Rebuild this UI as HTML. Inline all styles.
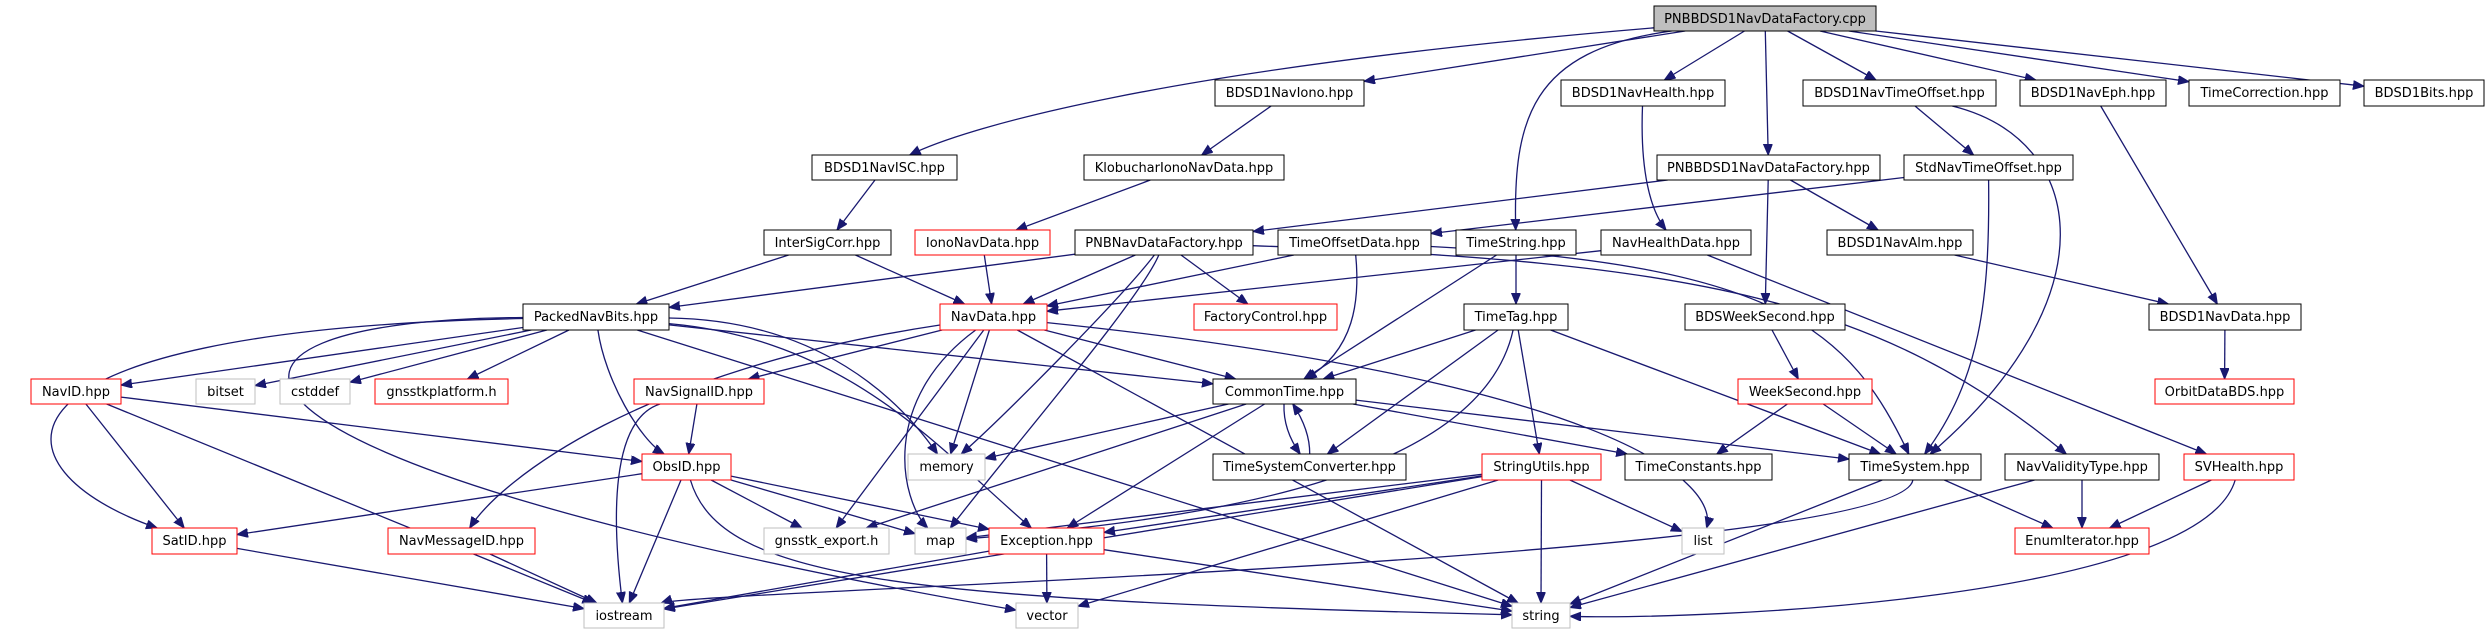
<!DOCTYPE html>
<html><head><meta charset="utf-8"><style>
html,body{margin:0;padding:0;background:#fff;width:2491px;height:635px;overflow:hidden}
svg text{font-family:"DejaVu Sans","Liberation Sans",sans-serif;font-size:13px;fill:#000}
</style></head><body>
<svg id="g" width="2491" height="635" viewBox="0 0 2491 635" xmlns="http://www.w3.org/2000/svg">
<defs><marker id="a" markerUnits="userSpaceOnUse" markerWidth="12" markerHeight="10" refX="11" refY="4.5" orient="auto"><path d="M0,0 L11,4.5 L0,9 z" fill="#191970" stroke="#191970"/></marker></defs>
<g id="edges" fill="none" stroke="#191970" stroke-width="1.3"></g>
<g id="nodes">
<rect x="1654" y="6" width="222" height="25" fill="#bfbfbf" stroke="#000"/><text x="1765" y="23" text-anchor="middle">PNBBDSD1NavDataFactory.cpp</text>
<rect x="1215" y="80" width="149" height="26" fill="#fff" stroke="#000"/><text x="1289.5" y="97" text-anchor="middle">BDSD1NavIono.hpp</text>
<rect x="1561" y="80" width="164" height="26" fill="#fff" stroke="#000"/><text x="1643" y="97" text-anchor="middle">BDSD1NavHealth.hpp</text>
<rect x="1803" y="80" width="193" height="26" fill="#fff" stroke="#000"/><text x="1899.5" y="97" text-anchor="middle">BDSD1NavTimeOffset.hpp</text>
<rect x="2020" y="80" width="146" height="26" fill="#fff" stroke="#000"/><text x="2093" y="97" text-anchor="middle">BDSD1NavEph.hpp</text>
<rect x="2189" y="80" width="151" height="26" fill="#fff" stroke="#000"/><text x="2264.5" y="97" text-anchor="middle">TimeCorrection.hpp</text>
<rect x="2364" y="80" width="120" height="26" fill="#fff" stroke="#000"/><text x="2424" y="97" text-anchor="middle">BDSD1Bits.hpp</text>
<rect x="812" y="155" width="145" height="25" fill="#fff" stroke="#000"/><text x="884.5" y="172" text-anchor="middle">BDSD1NavISC.hpp</text>
<rect x="1084" y="155" width="200" height="25" fill="#fff" stroke="#000"/><text x="1184" y="172" text-anchor="middle">KlobucharIonoNavData.hpp</text>
<rect x="1657" y="155" width="223" height="25" fill="#fff" stroke="#000"/><text x="1768.5" y="172" text-anchor="middle">PNBBDSD1NavDataFactory.hpp</text>
<rect x="1904" y="155" width="169" height="25" fill="#fff" stroke="#000"/><text x="1988.5" y="172" text-anchor="middle">StdNavTimeOffset.hpp</text>
<rect x="764" y="230" width="127" height="25" fill="#fff" stroke="#000"/><text x="827.5" y="247" text-anchor="middle">InterSigCorr.hpp</text>
<rect x="915" y="230" width="135" height="25" fill="#fff" stroke="#f00"/><text x="982.5" y="247" text-anchor="middle">IonoNavData.hpp</text>
<rect x="1075" y="230" width="178" height="25" fill="#fff" stroke="#000"/><text x="1164" y="247" text-anchor="middle">PNBNavDataFactory.hpp</text>
<rect x="1278" y="230" width="153" height="25" fill="#fff" stroke="#000"/><text x="1354.5" y="247" text-anchor="middle">TimeOffsetData.hpp</text>
<rect x="1456" y="230" width="120" height="25" fill="#fff" stroke="#000"/><text x="1516" y="247" text-anchor="middle">TimeString.hpp</text>
<rect x="1601" y="230" width="150" height="25" fill="#fff" stroke="#000"/><text x="1676" y="247" text-anchor="middle">NavHealthData.hpp</text>
<rect x="1827" y="230" width="146" height="25" fill="#fff" stroke="#000"/><text x="1900" y="247" text-anchor="middle">BDSD1NavAlm.hpp</text>
<rect x="523" y="304" width="146" height="26" fill="#fff" stroke="#000"/><text x="596" y="321" text-anchor="middle">PackedNavBits.hpp</text>
<rect x="940" y="304" width="107" height="26" fill="#fff" stroke="#f00"/><text x="993.5" y="321" text-anchor="middle">NavData.hpp</text>
<rect x="1194" y="304" width="143" height="26" fill="#fff" stroke="#f00"/><text x="1265.5" y="321" text-anchor="middle">FactoryControl.hpp</text>
<rect x="1464" y="304" width="104" height="26" fill="#fff" stroke="#000"/><text x="1516" y="321" text-anchor="middle">TimeTag.hpp</text>
<rect x="1685" y="304" width="160" height="26" fill="#fff" stroke="#000"/><text x="1765" y="321" text-anchor="middle">BDSWeekSecond.hpp</text>
<rect x="2149" y="304" width="152" height="26" fill="#fff" stroke="#000"/><text x="2225" y="321" text-anchor="middle">BDSD1NavData.hpp</text>
<rect x="31" y="379" width="90" height="25" fill="#fff" stroke="#f00"/><text x="76" y="396" text-anchor="middle">NavID.hpp</text>
<rect x="196" y="379" width="59" height="25" fill="#fff" stroke="#bfbfbf"/><text x="225.5" y="396" text-anchor="middle">bitset</text>
<rect x="280" y="379" width="70" height="25" fill="#fff" stroke="#bfbfbf"/><text x="315" y="396" text-anchor="middle">cstddef</text>
<rect x="375" y="379" width="133" height="25" fill="#fff" stroke="#f00"/><text x="441.5" y="396" text-anchor="middle">gnsstkplatform.h</text>
<rect x="634" y="379" width="130" height="25" fill="#fff" stroke="#f00"/><text x="699" y="396" text-anchor="middle">NavSignalID.hpp</text>
<rect x="1213" y="379" width="143" height="25" fill="#fff" stroke="#000"/><text x="1284.5" y="396" text-anchor="middle">CommonTime.hpp</text>
<rect x="1738" y="379" width="134" height="25" fill="#fff" stroke="#f00"/><text x="1805" y="396" text-anchor="middle">WeekSecond.hpp</text>
<rect x="2155" y="379" width="139" height="25" fill="#fff" stroke="#f00"/><text x="2224.5" y="396" text-anchor="middle">OrbitDataBDS.hpp</text>
<rect x="642" y="454" width="89" height="26" fill="#fff" stroke="#f00"/><text x="686.5" y="471" text-anchor="middle">ObsID.hpp</text>
<rect x="908" y="454" width="77" height="26" fill="#fff" stroke="#bfbfbf"/><text x="946.5" y="471" text-anchor="middle">memory</text>
<rect x="1213" y="454" width="193" height="26" fill="#fff" stroke="#000"/><text x="1309.5" y="471" text-anchor="middle">TimeSystemConverter.hpp</text>
<rect x="1482" y="454" width="119" height="26" fill="#fff" stroke="#f00"/><text x="1541.5" y="471" text-anchor="middle">StringUtils.hpp</text>
<rect x="1625" y="454" width="147" height="26" fill="#fff" stroke="#000"/><text x="1698.5" y="471" text-anchor="middle">TimeConstants.hpp</text>
<rect x="1849" y="454" width="132" height="26" fill="#fff" stroke="#000"/><text x="1915" y="471" text-anchor="middle">TimeSystem.hpp</text>
<rect x="2005" y="454" width="154" height="26" fill="#fff" stroke="#000"/><text x="2082" y="471" text-anchor="middle">NavValidityType.hpp</text>
<rect x="2184" y="454" width="110" height="26" fill="#fff" stroke="#f00"/><text x="2239" y="471" text-anchor="middle">SVHealth.hpp</text>
<rect x="152" y="528" width="85" height="26" fill="#fff" stroke="#f00"/><text x="194.5" y="545" text-anchor="middle">SatID.hpp</text>
<rect x="388" y="528" width="147" height="26" fill="#fff" stroke="#f00"/><text x="461.5" y="545" text-anchor="middle">NavMessageID.hpp</text>
<rect x="764" y="528" width="125" height="26" fill="#fff" stroke="#bfbfbf"/><text x="826.5" y="545" text-anchor="middle">gnsstk_export.h</text>
<rect x="915" y="528" width="51" height="26" fill="#fff" stroke="#bfbfbf"/><text x="940.5" y="545" text-anchor="middle">map</text>
<rect x="989" y="528" width="115" height="26" fill="#fff" stroke="#f00"/><text x="1046.5" y="545" text-anchor="middle">Exception.hpp</text>
<rect x="1682" y="528" width="42" height="26" fill="#fff" stroke="#bfbfbf"/><text x="1703" y="545" text-anchor="middle">list</text>
<rect x="2015" y="528" width="134" height="26" fill="#fff" stroke="#f00"/><text x="2082" y="545" text-anchor="middle">EnumIterator.hpp</text>
<rect x="584" y="603" width="80" height="25" fill="#fff" stroke="#bfbfbf"/><text x="624" y="620" text-anchor="middle">iostream</text>
<rect x="1016" y="603" width="62" height="25" fill="#fff" stroke="#bfbfbf"/><text x="1047" y="620" text-anchor="middle">vector</text>
<rect x="1512" y="603" width="58" height="25" fill="#fff" stroke="#bfbfbf"/><text x="1541" y="620" text-anchor="middle">string</text>
</g>
</svg>
<script>
(function(){
var N={cpp:[1654,6,1876,31],iono:[1215,80,1364,106],health:[1561,80,1725,106],toff:[1803,80,1996,106],eph:[2020,80,2166,106],tcorr:[2189,80,2340,106],bits:[2364,80,2484,106],
isc:[812,155,957,180],klob:[1084,155,1284,180],pbh:[1657,155,1880,180],std:[1904,155,2073,180],
isco:[764,230,891,255],ionond:[915,230,1050,255],pnb:[1075,230,1253,255],tod:[1278,230,1431,255],tstr:[1456,230,1576,255],nhd:[1601,230,1751,255],alm:[1827,230,1973,255],
pk:[523,304,669,330],nd:[940,304,1047,330],fc:[1194,304,1337,330],tt:[1464,304,1568,330],bws:[1685,304,1845,330],bnd:[2149,304,2301,330],
navid:[31,379,121,404],bitset:[196,379,255,404],cstd:[280,379,350,404],plat:[375,379,508,404],nsig:[634,379,764,404],ct:[1213,379,1356,404],ws:[1738,379,1872,404],orb:[2155,379,2294,404],
obs:[642,454,731,480],mem:[908,454,985,480],tsc:[1213,454,1406,480],su:[1482,454,1601,480],tc:[1625,454,1772,480],ts:[1849,454,1981,480],nvt:[2005,454,2159,480],svh:[2184,454,2294,480],
sat:[152,528,237,554],nmid:[388,528,535,554],exp:[764,528,889,554],map:[915,528,966,554],exc:[989,528,1104,554],list:[1682,528,1724,554],enm:[2015,528,2149,554],
ios:[584,603,664,628],vec:[1016,603,1078,628],str:[1512,603,1570,628]};
var E=[
['cpp','isc',[1150,70],[960,130]],['cpp','iono'],['cpp','tstr',[1530,50],[1513,120]],['cpp','health'],['cpp','pbh'],['cpp','toff'],['cpp','eph'],['cpp','tcorr'],['cpp','bits'],
['iono','klob'],['klob','ionond'],['ionond','nd'],['isc','isco'],['isco','pk'],['isco','nd'],
['health','nhd',[1640,170],[1650,210]],['pbh','pnb'],['pbh','alm'],['pbh','bws'],
['toff','std'],['toff','ts',[2090,140],[2110,300]],['std','tod'],['std','ts',[1990,300],[1980,380]],
['eph','bnd'],['alm','bnd'],['bnd','orb'],
['pnb','pk'],['pnb','nd'],['pnb','mem',[1120,300],[1000,420]],['pnb','map',[1140,300],[1010,450]],['pnb','fc'],['pnb','nvt',[1700,262],[1880,300]],
['tod','nd'],['tod','ct',[1360,300],[1355,350]],['tod','ts',[1780,265],[1850,330]],
['tstr','ct'],['tstr','tt'],['nhd','nd'],['nhd','svh'],['bws','ws'],['ws','tc'],['ws','ts'],
['tt','ct'],['tt','tsc'],['tt','su'],['tt','ts'],['tt','map',[1480,480],[1200,520]],
['pk','navid'],['pk','bitset'],['pk','cstd'],['pk','plat'],['pk','obs',[605,380],[640,440]],['pk','sat',[-40,330],[-10,470]],['pk','vec',[150,320],[160,460]],['pk','str'],['pk','ct'],['pk','exc',[850,340],[940,450]],['pk','mem',[820,320],[900,400]],
['nd','nsig'],['nd','nmid',[640,370],[500,480]],['nd','ct'],['nd','mem'],['nd','map',[880,400],[900,500]],['nd','exp'],['nd','str'],['nd','list',[1600,380],[1720,480]],
['navid','sat'],['navid','obs'],['navid','ios'],['nsig','obs'],['nsig','ios',[610,420],[612,520]],
['obs','sat'],['obs','exp'],['obs','map'],['obs','exc'],['obs','ios'],['obs','str',[720,580],[900,600]],
['sat','ios'],['nmid','ios'],
['ct','mem'],['ct','exp'],['ct','exc'],['ct','tsc',[1283,430],null],['ct','tc'],['ct','ts'],['tsc','ct',[1310,430],null],
['su','map'],['su','exc'],['su','list'],['su','vec'],['su','str'],['su','ios'],
['exc','ios'],['exc','vec'],['exc','str'],
['ts','ios',[1900,560],[700,590]],['ts','str'],['ts','enm'],['nvt','enm'],['nvt','str'],['svh','enm'],['svh','str',[2200,600],[1700,620]]
];
function ctr(b){return [(b[0]+b[2])/2,(b[1]+b[3])/2];}
function bd(b,p){var c=ctr(b),hw=(b[2]-b[0])/2,hh=(b[3]-b[1])/2,dx=p[0]-c[0],dy=p[1]-c[1];
var t=Math.min(dx?hw/Math.abs(dx):1e9,dy?hh/Math.abs(dy):1e9);return [c[0]+dx*t,c[1]+dy*t];}
var g=document.getElementById('edges'),s='';
E.forEach(function(e){var A=N[e[0]],B=N[e[1]],c1=e[2],c2=e[3];
var cb=ctr(B),ca=ctr(A);
var p0=bd(A,c1||cb),p1=bd(B,c2||c1||ca);
var d='M'+p0[0].toFixed(1)+','+p0[1].toFixed(1);
if(c1&&c2)d+=' C'+c1+' '+c2+' '+p1[0].toFixed(1)+','+p1[1].toFixed(1);
else if(c1)d+=' Q'+c1+' '+p1[0].toFixed(1)+','+p1[1].toFixed(1);
else d+=' L'+p1[0].toFixed(1)+','+p1[1].toFixed(1);
s+='<path d="'+d+'" marker-end="url(#a)"/>';});
g.innerHTML=s;
})();
</script>
</body></html>
